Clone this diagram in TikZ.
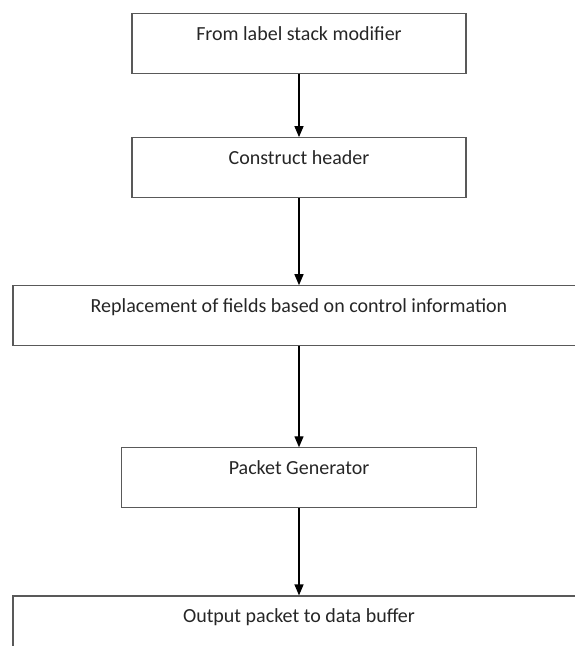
\documentclass[tikz,border=0pt]{standalone}
\usepackage{fontspec}
\setmainfont{Carlito}
\usetikzlibrary{arrows.meta,positioning}

\begin{document}
\begin{tikzpicture}[
			x = 1pt, y = 1pt,
			font = \fontsize{20}{24}\selectfont,
			box/.style = {draw=black!65, line width=1.1pt, text=black!85, inner xsep=0pt, inner ysep=0pt, text height=27pt, text depth=33pt},
			flow/.style = {line width=1.3pt, -{Triangle[length=11pt,width=9pt]}}
			]

			\useasboundingbox (0,0) rectangle (575,-646);

			\node[box, anchor=north, minimum width=334pt] (from) at (299,-13) {From label stack modifier};
			\node[box, minimum width=334pt, below=63pt of from] (construct) {Construct header};
			\node[box, minimum width=572pt, below=87pt of construct] (replace) {Replacement of fields based on control information};
			\node[box, minimum width=355pt, below=101pt of replace] (packet) {Packet Generator};
			\node[box, minimum width=572pt, below=87pt of packet] (output) {Output packet to data buffer};

			\draw[flow] (from) -- (construct);
			\draw[flow] (construct) -- (replace);
			\draw[flow] (replace) -- (packet);
			\draw[flow] (packet) -- (output);

		\end{tikzpicture}
\end{document}
